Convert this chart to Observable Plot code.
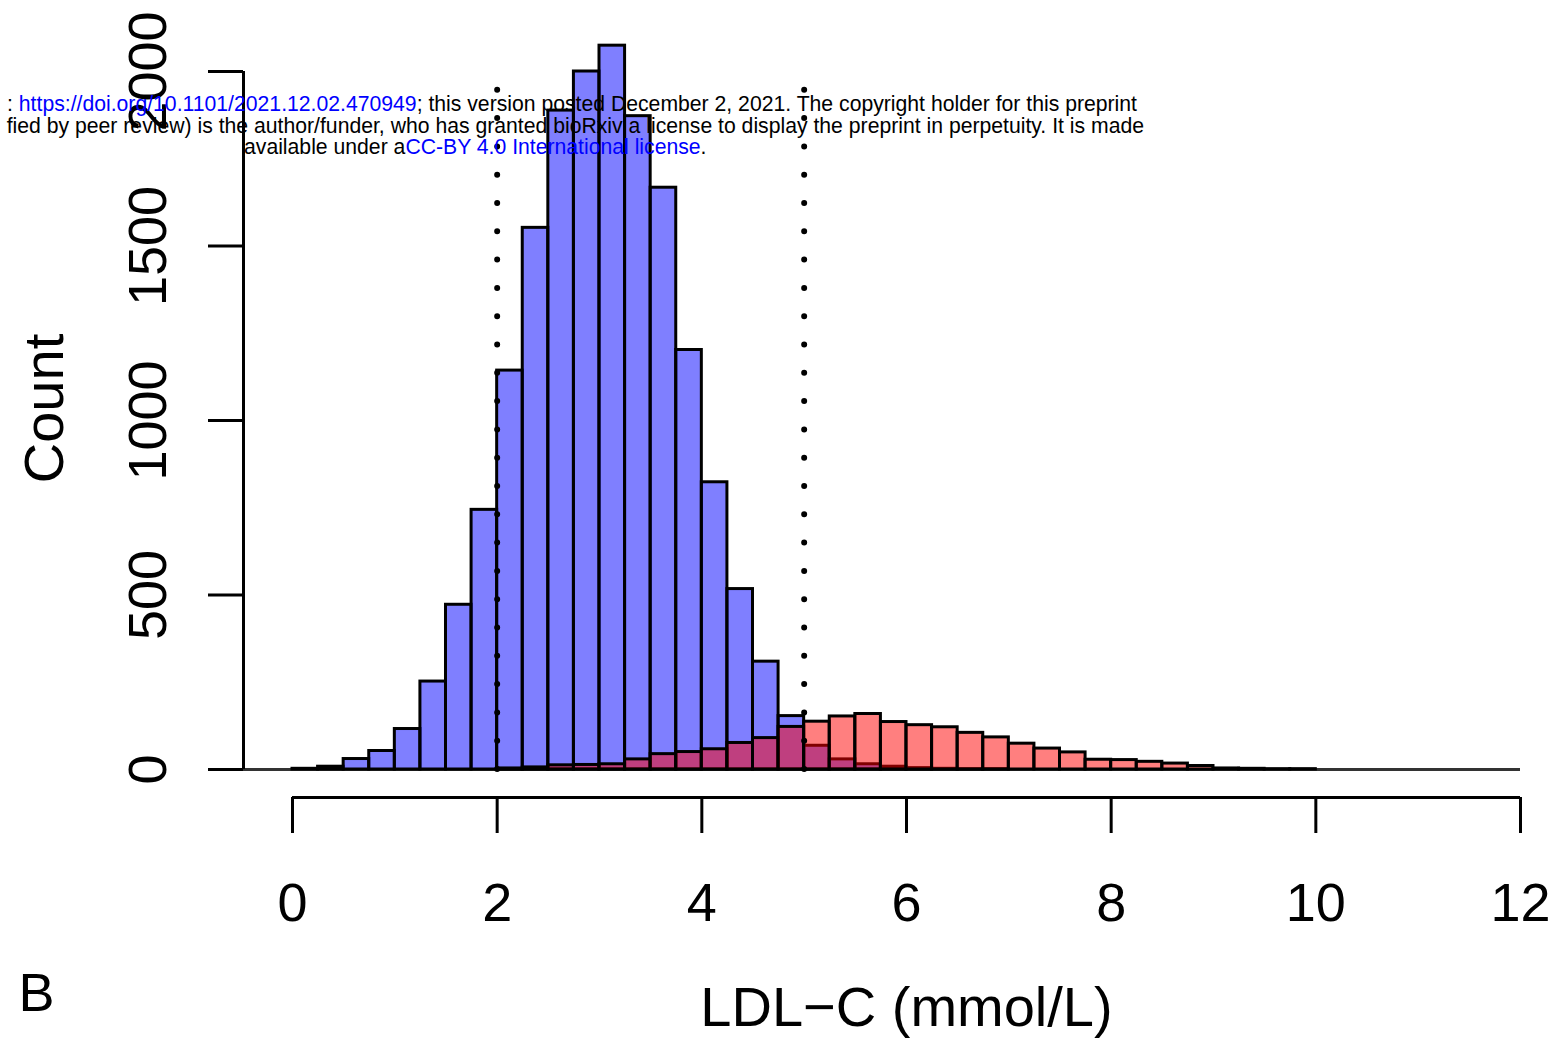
<!DOCTYPE html>
<html><head><meta charset="utf-8">
<script src="https://cdn.jsdelivr.net/npm/d3@7"></script>
<script src="https://cdn.jsdelivr.net/npm/@observablehq/plot@0.6"></script>
<style>
html,body{margin:0;padding:0;background:#fff;overflow:hidden;width:1560px;height:1041px;}
#wrap{position:relative;width:1560px;height:1041px;overflow:hidden;}
.hdr{position:absolute;font-family:"Liberation Sans",Arial,sans-serif;font-size:21.2px;line-height:21px;white-space:nowrap;color:#000;z-index:2;}
.hdr .lnk{color:#0000ff;}
</style></head><body>
<div id="wrap">
  <div class="hdr" style="right:423px;top:93px;">: <span class="lnk">https://doi.org/10.1101/2021.12.02.470949</span>; this version posted December 2, 2021. The copyright holder for this preprint</div>
  <div class="hdr" style="right:416px;top:115px;">fied by peer review) is the author/funder, who has granted bioRxiv a license to display the preprint in perpetuity. It is made</div>
  <div class="hdr" style="left:244px;top:136px;">available under a<span class="lnk">CC-BY 4.0 International license</span>.</div>
</div>
<script>
// Histogram bins (bin width 0.25 mmol/L)
const binWidth = 0.25;
const blueBinStart = [0, 0.25, 0.5, 0.75, 1, 1.25, 1.5, 1.75, 2, 2.25, 2.5, 2.75, 3, 3.25, 3.5, 3.75, 4, 4.25, 4.5, 4.75, 5, 5.25, 5.5, 5.75, 6, 6.25, 6.5, 6.75];
const blueCounts   = [2, 8, 30, 53, 116, 252, 472, 744, 1143, 1552, 1888, 2000, 2074, 1872, 1667, 1202, 823, 517, 309, 153, 68, 29, 15, 8, 4, 2, 1, 1];
const redBinStart  = [2, 2.25, 2.5, 2.75, 3, 3.25, 3.5, 3.75, 4, 4.25, 4.5, 4.75, 5, 5.25, 5.5, 5.75, 6, 6.25, 6.5, 6.75, 7, 7.25, 7.5, 7.75, 8, 8.25, 8.5, 8.75, 9, 9.25, 9.5, 9.75];
const redCounts    = [3, 6, 12, 13, 15, 29, 44, 50, 58, 76, 90, 122, 137, 152, 159, 136, 127, 121, 105, 92, 74, 60, 49, 28, 27, 22, 17, 10, 3, 2, 1, 1];
const emptyRange = [-0.5, 12];          // zero-count bins drawn along the baseline
const refLines = [2, 5];                // dotted thresholds
const refTop = 1950;
const xTicks = [0, 2, 4, 6, 8, 10, 12];
const yTicks = [0, 500, 1000, 1500, 2000];
const xLabel = "LDL\u2212C (mmol/L)";
const yLabel = "Count";
const panelLabel = "B";

const blue = blueBinStart.map((s, i) => ({x1: s, x2: s + binWidth, count: blueCounts[i]}));
const red = redBinStart.map((s, i) => ({x1: s, x2: s + binWidth, count: redCounts[i]}));

const chart = Plot.plot({
  width: 1560, height: 1041,
  marginLeft: 292, marginRight: 40, marginTop: 71, marginBottom: 272,
  x: {domain: [0, 12]},
  y: {domain: [0, 2000]},
  style: {fontFamily: "'Liberation Sans', Arial, sans-serif", background: "white", color: "black"},
  marks: [
    Plot.ruleY([0], {x1: () => emptyRange[0], x2: () => emptyRange[1], stroke: "#333", strokeWidth: 3}),
    Plot.rectY(blue, {x1: "x1", x2: "x2", y: "count", fill: "#0000ff", fillOpacity: 0.5, stroke: "black", strokeWidth: 3, inset: 0}),
    Plot.rectY(red, {x1: "x1", x2: "x2", y: "count", fill: "#ff0000", fillOpacity: 0.5, stroke: "black", strokeWidth: 3, inset: 0}),
    Plot.ruleX(refLines, {y1: 0, y2: () => refTop, stroke: "black", strokeWidth: 6, strokeDasharray: "0,28.3", strokeLinecap: "round"}),
    Plot.ruleX([0], {y1: 0, y2: 2000, dx: -49, strokeWidth: 3}),
    Plot.axisY(yTicks, {anchor: "left", dx: -49, tickSize: 35, tickRotate: -90, tickPadding: 43, fontSize: 54, strokeWidth: 3, label: null, tickFormat: d3.format("d")}),
    Plot.ruleY([0], {x1: 0, x2: 12, dy: 28, strokeWidth: 3}),
    Plot.axisX(xTicks, {anchor: "bottom", dy: 28, tickSize: 36, tickPadding: 49, fontSize: 54, strokeWidth: 3, label: null, tickFormat: d3.format("d")}),
    Plot.text([yLabel], {text: d => d, frameAnchor: "left", rotate: -90, dx: -230, dy: -12, fontSize: 56, textAnchor: "middle", lineAnchor: "bottom"}),
    Plot.text([xLabel], {text: d => d, frameAnchor: "bottom", dy: 256, fontSize: 56, textAnchor: "middle", lineAnchor: "bottom"}),
    Plot.text([panelLabel], {text: d => d, frameAnchor: "bottom-left", dx: -274, dy: 241, fontSize: 54, textAnchor: "start", lineAnchor: "bottom"})
  ]
});
chart.style.position = "absolute";
chart.style.left = "0px";
chart.style.top = "0px";
document.getElementById("wrap").appendChild(chart);
</script>
</body></html>
